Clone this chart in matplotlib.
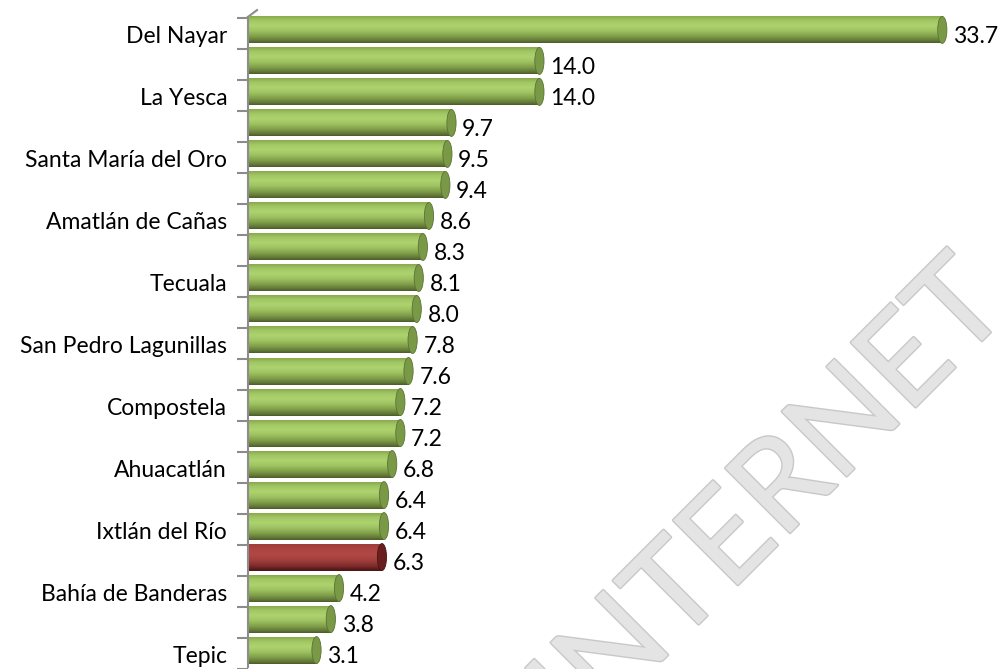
import matplotlib.pyplot as plt
import matplotlib.patheffects as pe
import numpy as np
from matplotlib.patches import Ellipse
from matplotlib.colors import LinearSegmentedColormap

# data (top to bottom)
labels = ['Del Nayar', '', 'La Yesca', '', 'Santa María del Oro', '',
          'Amatlán de Cañas', '', 'Tecuala', '', 'San Pedro Lagunillas', '',
          'Compostela', '', 'Ahuacatlán', '', 'Ixtlán del Río', '',
          'Bahía de Banderas', '', 'Tepic']
values = [33.7, 14.0, 14.0, 9.7, 9.5, 9.4, 8.6, 8.3, 8.1, 8.0, 7.8, 7.6,
          7.2, 7.2, 6.8, 6.4, 6.4, 6.3, 4.2, 3.8, 3.1]
highlight = 17  # red bar

plt.rcParams['font.family'] = ['Lato', 'DejaVu Sans']

green = LinearSegmentedColormap.from_list('g', [
    (0.0, '#88aa4c'), (0.15, '#a1c664'), (0.35, '#add36e'), (0.55, '#9ec261'),
    (0.75, '#819f49'), (0.92, '#617737'), (1.0, '#4c5c2b')])
red = LinearSegmentedColormap.from_list('r', [
    (0.0, '#9e3e3b'), (0.2, '#ad4543'), (0.4, '#b04745'), (0.6, '#a23f3d'),
    (0.8, '#802e2d'), (0.93, '#5e1b1b'), (1.0, '#4a1414')])
grad = np.linspace(0, 1, 64).reshape(-1, 1)

fig = plt.figure(figsize=(10.03, 6.69), dpi=100)
ax = fig.add_axes([248 / 1003, 0, 755 / 1003, 1])

h = 0.87
depth = 0.25
cap_w = 0.45
n = len(values)
for i, v in enumerate(values):
    cm = red if i == highlight else green
    capc = '#6a1f1f' if i == highlight else '#7a9946'
    e = v + depth
    ax.imshow(grad, cmap=cm, aspect='auto', extent=(0, e, i + h / 2, i - h / 2),
              zorder=2, interpolation='bilinear')
    ax.add_patch(Ellipse((e, i), cap_w, h, facecolor=capc,
                         edgecolor='#5a7334' if i != highlight else '#4a1414',
                         lw=0.6, zorder=3))
    ax.text(e + cap_w / 2 + 0.3, i + 0.2, f'{v:.1f}', fontsize=16.5,
            va='center', ha='left', color='black', zorder=4)

ax.set_xlim(0, 755 / 20.45)
ax.set_ylim(20.55, -0.965)
ax.set_yticks(np.arange(n) + 0.15)
ax.set_yticklabels(labels, fontsize=16.5)
ax.tick_params(axis='y', length=0, pad=15)
ax.set_yticks(np.arange(n + 1) - 0.39, minor=True)
ax.tick_params(axis='y', which='minor', length=8, width=1.5, color='#8c8c8c')
ax.set_xticks([])
for s in ['top', 'right', 'bottom']:
    ax.spines[s].set_visible(False)
ax.spines['left'].set_color('#8c8c8c')
ax.spines['left'].set_linewidth(1.5)
ax.spines['left'].set_bounds(20.55, -0.42)
# 3D corner of the axis
ax.plot([0, 0.44], [-0.42, -0.64], color='#8c8c8c', lw=1.5, clip_on=False, zorder=1)

# watermark
fig.text(772 / 1003, 1 - 500 / 669, 'INTERNET', fontsize=92, rotation=45,
         ha='center', va='center', color='#e4e4e4', zorder=0,
         path_effects=[pe.withStroke(linewidth=2, foreground='#c8c8c8')])

fig.savefig('out.png', dpi=100)
